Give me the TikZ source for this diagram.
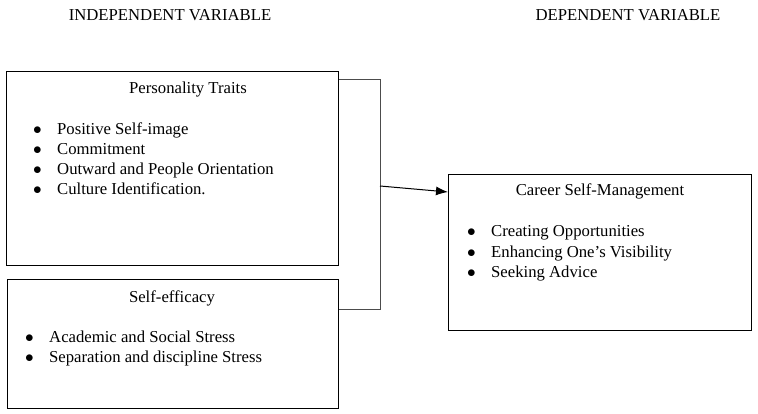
\documentclass[tikz,border=0pt]{standalone}
\usepackage{fontspec}
\setmainfont{Liberation Serif}
\usetikzlibrary{arrows.meta}

\newcommand{\itm}{\makebox[24pt][l]{$\bullet$}}

\begin{document}
\begin{tikzpicture}
    [
      x=1pt, y=-1pt,
      every node/.style={black, font=\fontsize{16.7}{20}\selectfont},
      box/.style={draw, line width=1pt, anchor=north west, inner sep=0pt},
      title/.style={anchor=base, inner sep=0pt},
      list/.style={anchor=base west, align=left, inner sep=0pt},
      link/.style={draw=black!70, line width=1pt},
    ]

    \useasboundingbox (0,0) rectangle (758,414);

    \node [title] (indep) at (170,21) {INDEPENDENT VARIABLE};
    \node [title] (dep) at (628,21) {DEPENDENT VARIABLE};

    \node [box, minimum width=332pt, minimum height=194pt] (traits) at (6,71) {};
    \node [box, minimum width=331pt, minimum height=129pt] (efficacy) at (7,279) {};
    \node [box, minimum width=303pt, minimum height=156pt] (career) at (448,174) {};

    % list nodes sit on the baseline of their last line
    \node [title] (traitsT) at (188,94) {Personality Traits};
    \node [list] (traitsL) at (33,195) {%
      \itm Positive Self-image\\
      \itm Commitment\\
      \itm Outward and People Orientation\\
      \itm Culture Identification.};

    \node [title] (efficacyT) at (172,302) {Self-efficacy};
    \node [list] (efficacyL) at (25,362) {%
      \itm Academic and Social Stress\\
      \itm Separation and discipline Stress};

    \node [title] (careerT) at (600,196) {Career Self-Management};
    \node [list] (careerL) at (467,277) {%
      \itm Creating Opportunities\\
      \itm Enhancing One’s Visibility\\
      \itm Seeking Advice};

    \coordinate (jtop) at (380,80);
    \coordinate (jmid) at (380,186);
    \coordinate (jbot) at (380,309);

    \draw [link] (traits.east |- jtop) -- (jtop) -- (jbot) -- (efficacy.east |- jbot);
    \draw [line width=1pt, -{Latex[length=12pt, width=9pt]}] (jmid) -- ([yshift=-18pt]career.north west);
  \end{tikzpicture}
\end{document}
